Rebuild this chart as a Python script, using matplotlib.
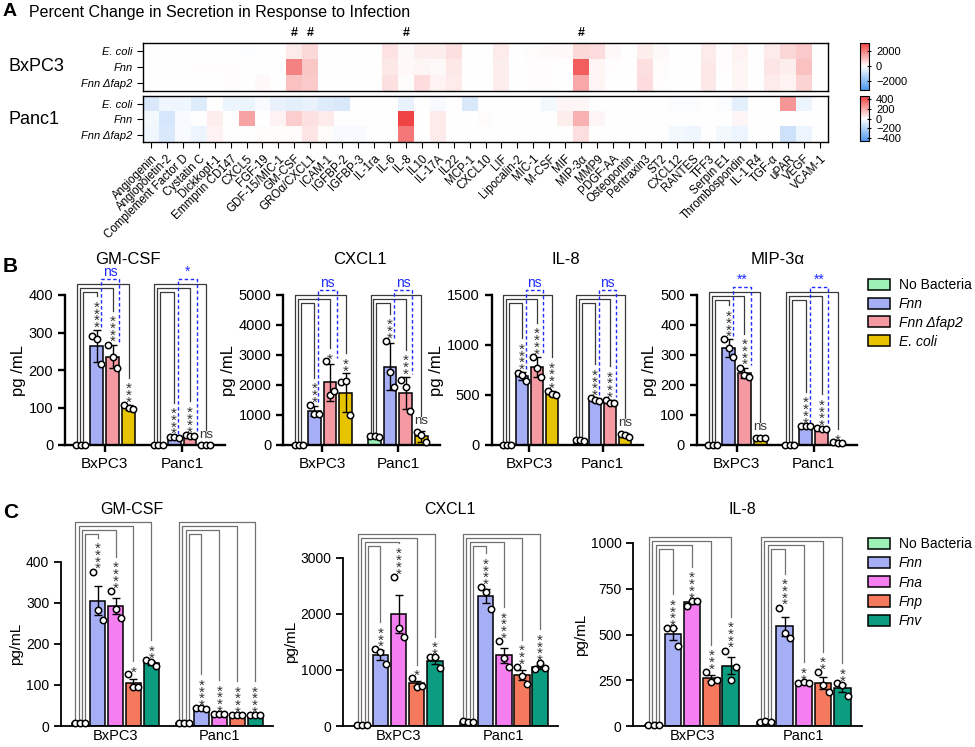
import numpy as np
import matplotlib
matplotlib.use("Agg")
import matplotlib.pyplot as plt
from matplotlib.colors import LinearSegmentedColormap
from matplotlib.patches import Patch

plt.rcParams['font.family'] = ['Liberation Sans', 'DejaVu Sans']

W, H = 975, 747

# ---------------- A: heatmap ----------------
analytes = ["Angiogenin", "Angiopoietin-2", "Complement Factor D", "Cystatin C", "Dickkopf-1",
            "Emmprin CD147", "CXCL5", "FGF-19", "GDF-15/MIC-1", "GM-CSF", "GROα/CXCL1", "ICAM-1",
            "IGFBP-2", "IGFBP-3", "IL-1ra", "IL-6", "IL-8", "IL10", "IL-17A", "IL22", "MCP-1",
            "CXCL10", "LIF", "Lipocalin-2", "MIC-1", "M-CSF", "MIF", "MIP-3α", "MMP9", "PDGF-AA",
            "Osteopontin", "Pentraxin3", "ST2", "CXCL12", "RANTES", "TFF3", "Serpin E1",
            "Thrombospondin", "IL-1 R4", "TGF-α", "uPAR", "VEGF", "VCAM-1"]
hm_rows = ["E. coli", "Fnn", "Fnn Δfap2"]
hash_marks = ["GM-CSF", "GROα/CXCL1", "IL-8", "MIP-3α"]

bx_ecoli = [0, 0, 0, 0, 0, 0, -40, 0, 0, 300, 600, 0, 0, 0, 0, 450, 80, 250, 250, 500, 0, 0, 300, 0,
            50, 80, 120, 600, 550, 100, 0, 250, 80, 0, 0, 300, 30, 200, 0, 300, 650, 850, 0]
bx_fnn = [20, 0, 0, 30, 30, 30, 0, 0, 0, 2000, 900, 0, 0, 0, 0, 350, 100, 150, 80, 350, 0, 0, 250, 0,
          30, 30, 20, 2600, 150, 30, 0, 500, 50, 0, 0, 350, 30, 150, 0, 400, 250, 1000, 0]
bx_fap2 = [0, 0, 0, 20, 0, 30, 0, 100, 0, 1000, 850, 0, 0, 0, 0, 500, 60, 550, 200, 300, 0, 0, 250, 0,
           30, 30, 0, 1400, 150, 0, 0, 550, 40, 0, 0, 350, 20, 150, 0, 300, 200, 700, 0]
pa_ecoli = [-100, -40, -40, -90, 0, -50, -50, -20, -60, -70, -60, -90, -100, 0, 0, 0, -60, 0, -20, 0,
            -100, 0, 0, 0, 0, -30, 20, 20, 0, 0, 0, 0, 0, -10, -10, 0, -10, -70, 0, 0, 250, -50, 0]
pa_fnn = [-30, -110, -20, 0, 40, 0, 220, 0, 30, 120, 70, 50, 0, 0, 0, 0, 450, 0, 50, 0, 0, 10, 0, 0,
          0, 0, 40, 190, 20, 0, 0, 0, 0, 0, 0, 0, 0, 20, 0, 0, 0, 0, 0]
pa_fap2 = [-40, -100, -20, -50, 30, 0, 0, 10, 10, 10, 60, 10, -20, -20, 0, 0, 330, 0, 50, 0, 0, 0, 0, 0,
           0, 0, 0, 80, 0, 0, 0, 0, 0, -30, -40, 0, -30, -50, 0, 0, -130, -50, 0]

# ---------------- B ----------------
cells = ["BxPC3", "Panc1"]
b_conditions = ["No Bacteria", "Fnn", "Fnn Δfap2", "E. coli"]
b_titles = ["GM-CSF", "CXCL1", "IL-8", "MIP-3α"]
b_ymax = [400, 5000, 1500, 500]
b_ystep = [100, 1000, 500, 100]

b_gmcsf_bx = [[1, 1, 1], [292, 284, 215], [268, 234, 206], [108, 100, 95]]
b_gmcsf_pa = [[1, 1, 1], [22, 22, 20], [26, 25, 24], [1, 1, 1]]
b_gmcsf_stars = [["****", "****", "***"], ["****", "****", "ns"]]
b_gmcsf_blue = ["ns", "*"]

b_cxcl1_bx = [[10, 10, 10], [1340, 1044, 1044], [2800, 1680, 1790], [2090, 2140, 990]]
b_cxcl1_pa = [[290, 290, 280], [3480, 2440, 1920], [2165, 1920, 1130], [450, 330, 100]]
b_cxcl1_stars = [["***", "*", "**"], ["***", "***", "ns"]]
b_cxcl1_blue = ["ns", "ns"]

b_il8_bx = [[2, 2, 2], [720, 700, 640], [883, 767, 683], [540, 510, 500]]
b_il8_pa = [[50, 55, 45], [467, 450, 440], [450, 425, 420], [115, 100, 80]]
b_il8_stars = [["****", "****", "****"], ["****", "****", "ns"]]
b_il8_blue = ["ns", "ns"]

b_mip_bx = [[1, 1, 1], [352, 322, 294], [258, 232, 228], [25, 24, 22]]
b_mip_pa = [[1, 1, 1], [64, 63, 64], [56, 54, 53], [9, 8, 8]]
b_mip_stars = [["****", "****", "ns"], ["****", "****", "*"]]
b_mip_blue = ["**", "**"]

# ---------------- C ----------------
c_conditions = ["No Bacteria", "Fnn", "Fna", "Fnp", "Fnv"]
c_titles = ["GM-CSF", "CXCL1", "IL-8"]
c_ymax = [400, 3000, 1000]
c_ystep = [100, 1000, 250]

c_gmcsf_bx = [[8, 8, 8], [376, 282, 258], [329, 285, 262], [126, 94, 94], [160, 157, 145]]
c_gmcsf_pa = [[8, 8, 8], [43, 43, 42], [29, 28, 28], [27, 27, 26], [27, 26, 26]]
c_gmcsf_stars = [["****", "****", "*", "**"], ["****", "****", "****", "****"]]

c_cxcl1_bx = [[10, 10, 10], [1367, 1325, 1105], [2662, 1741, 1592], [862, 701, 713], [1236, 1236, 1028]]
c_cxcl1_pa = [[90, 80, 70], [2472, 2395, 2080], [1515, 1206, 1058], [1058, 897, 749], [1010, 1117, 1030]]
c_cxcl1_stars = [["***", "****", "*", "**"], ["****", "****", "***", "****"]]

c_il8_bx = [[5, 5, 5], [534, 534, 437], [656, 685, 685], [297, 242, 251], [412, 251, 324]]
c_il8_pa = [[22, 25, 20], [647, 506, 479], [233, 239, 233], [297, 224, 188], [233, 224, 164]]
c_il8_stars = [["****", "****", "***", "****"], ["****", "**", "**", "**"]]

b_colors = ["#9cf2b6", "#a6aff5", "#f59aa3", "#e8c300"]
c_colors = ["#9cf2b6", "#a6aff5", "#f57ef0", "#f5795c", "#0c9c80"]
BLUE = "#1f2bff"
STAR_FS = 11
STAR_STEP = 7.0   # px between stacked stars


def fx(px):
    return px / W


def fy(py):
    return 1 - py / H


def add_ax(x0, x1, y0, y1):
    return fig.add_axes([fx(x0), fy(y1), (x1 - x0) / W, (y1 - y0) / H])


def draw_label(ax, x, y, lab, upp, color="#333333"):
    # y = where the lowest glyph should start (data units)
    if lab == "ns":
        ax.text(x, y, "ns", ha="center", va="bottom", fontsize=9.5, color=color)
    else:
        n = len(lab)
        em = STAR_FS * 100 / 72
        ytop = y + ((n - 1) * STAR_STEP + 0.30 * em) * upp
        ax.text(x, ytop, "\n".join("*" * n), ha="center", va="top", fontsize=STAR_FS,
                color=color, linespacing=0.34)


def bar_panel(ax, groups, star_sets, colors, gap, xlim, ymax, ystep, h_px, sem,
              br_top_px, width, blue=None, line_col="#444444", spine_w=1.5, fs=11, xtick_len=5):
    upp = ymax / h_px
    nb = len(colors)
    K = nb - 1
    centers = []
    for g, (pts_list, stars) in enumerate(zip(groups, star_sets)):
        xs = g * gap + np.arange(nb)
        centers.append(xs.mean())
        tops = []
        for k, pts in enumerate(pts_list):
            pts = np.array(pts, float)
            m = pts.mean()
            e = pts.std(ddof=1)
            if sem:
                e = e / np.sqrt(len(pts))
            ax.bar(xs[k], m, width=width, color=colors[k], edgecolor="black", linewidth=1.1, zorder=2)
            if e > 0.5:
                ax.errorbar(xs[k], m, yerr=e, fmt="none", ecolor="black", elinewidth=1,
                            capsize=3, capthick=1, zorder=3)
            ax.plot(xs[k] + np.array([-0.28, 0.0, 0.28]), pts, "o", ms=4.6, mfc="white",
                    mec="black", mew=1.1, zorder=4, clip_on=False)
            tops.append(max(pts.max(), m + e))
        top_level = ymax + br_top_px * upp
        for k in range(1, nb):
            lev = top_level - (K - k) * 4 * upp
            xl = xs[0] - 0.25 + 0.185 * (K - k)
            lab = stars[k - 1]
            lab_h = 9 if lab == "ns" else STAR_STEP * len(lab)
            yrb = min(tops[k] + (3 + lab_h + 3) * upp, lev)
            ax.plot([xl, xl, xs[k], xs[k]], [tops[0] + 3 * upp, lev, lev, yrb],
                    color=line_col, lw=0.9, clip_on=False, zorder=1)
            draw_label(ax, xs[k], tops[k] + 4 * upp, lab, upp)
        if blue is not None:
            blev = top_level + 5 * upp
            bl, br = xs[1] + 0.25, xs[2] + 0.42
            ax.plot([bl, bl, br, br], [tops[1] + 3 * upp, blev, blev, tops[2] + 3 * upp],
                    color=BLUE, lw=1, ls=(0, (2.5, 1.8)), clip_on=False, zorder=1)
            ax.text((bl + br) / 2, blev, blue[g], ha="center", va="bottom",
                    color=BLUE, fontsize=10)
    ax.set_xlim(*xlim)
    ax.set_ylim(0, ymax)
    ax.set_yticks(np.arange(0, ymax + 1, ystep))
    ax.set_xticks(centers)
    ax.set_xticklabels(cells, fontsize=fs)
    ax.tick_params(axis="y", labelsize=fs - 0.5, width=spine_w, length=5)
    ax.tick_params(axis="x", width=spine_w, length=xtick_len, pad=2 if xtick_len == 0 else 3.5)
    for s in ["top", "right"]:
        ax.spines[s].set_visible(False)
    for s in ["left", "bottom"]:
        ax.spines[s].set_linewidth(spine_w)


fig = plt.figure(figsize=(W / 100, H / 100), dpi=100)

# ---- panel A ----
cmap = LinearSegmentedColormap.from_list("bwr2", ["#4f98ee", "#ffffff", "#f03c3c"])
fig.text(fx(3), fy(12), "A", fontsize=14, weight="bold", va="center")
fig.text(fx(29), fy(12), "Percent Change in Secretion in Response to Infection",
         fontsize=11.5, va="center")

hm_specs = [("BxPC3", [bx_ecoli, bx_fnn, bx_fap2], 42.7, 90.7, 3150, [-2000, 0, 2000]),
            ("Panc1", [pa_ecoli, pa_fnn, pa_fap2], 96, 142.3, 470, [-400, -200, 0, 200, 400])]
for i, (name, rows, y0, y1, vlim, cticks) in enumerate(hm_specs):
    ax = add_ax(143, 828, y0, y1)
    im = ax.imshow(np.array(rows, float), cmap=cmap, vmin=-vlim, vmax=vlim,
                   aspect="auto", interpolation="nearest")
    ax.set_yticks(range(len(hm_rows)))
    ax.set_yticklabels(hm_rows, fontsize=8, style="italic")
    ax.tick_params(axis="y", length=4, width=0.8)
    for s in ax.spines.values():
        s.set_linewidth(1)
    if i == 1:
        ax.set_xticks(range(len(analytes)))
        ax.set_xticklabels(analytes, rotation=45, ha="right", rotation_mode="anchor", fontsize=8.3)
        ax.tick_params(axis="x", length=4, width=0.8)
    else:
        ax.set_xticks([])
        for h in hash_marks:
            ax.text(analytes.index(h), -0.75, "#", ha="center", va="bottom", fontsize=9, weight="bold")
    fig.text(fx(8), fy((y0 + y1) / 2), name, fontsize=13, va="center")
    cax = add_ax(860, 869, y0, y1 - 1)
    cb = fig.colorbar(im, cax=cax, ticks=cticks)
    cb.ax.tick_params(labelsize=8, length=3, width=0.8, direction="inout")
    cb.outline.set_linewidth(0.8)

# ---- panel B ----
fig.text(fx(3), fy(267), "B", fontsize=15, weight="bold", va="center")
b_groups = [(b_gmcsf_bx, b_gmcsf_pa), (b_cxcl1_bx, b_cxcl1_pa), (b_il8_bx, b_il8_pa), (b_mip_bx, b_mip_pa)]
b_stars = [b_gmcsf_stars, b_cxcl1_stars, b_il8_stars, b_mip_stars]
b_blue = [b_gmcsf_blue, b_cxcl1_blue, b_il8_blue, b_mip_blue]
b_pos = [(65, 225), (283.3, 440), (491.7, 643.3), (696.7, 856.7)]
b_brtop = [11, 0, 0, 3]
b_title_x = [128, 360, 566, 778]
gap_b = 4.85
for i in range(4):
    ax = add_ax(b_pos[i][0], b_pos[i][1], 295, 445)
    bar_panel(ax, b_groups[i], b_stars[i], b_colors, gap_b, (-1.0, gap_b + 4.2),
              b_ymax[i], b_ystep[i], 150, False, b_brtop[i], 0.81, blue=b_blue[i],
              line_col="#3a3a3a", spine_w=1.7, fs=11)
    ax.set_ylabel("pg /mL", fontsize=12, labelpad=2)
    fig.text(fx(b_title_x[i]), fy(259), b_titles[i], fontsize=12, ha="center", va="center")

b_handles = [Patch(facecolor=c, edgecolor="black", linewidth=1.1) for c in b_colors]
leg = fig.legend(b_handles, b_conditions, loc="upper left", bbox_to_anchor=(fx(868), fy(278)),
                 frameon=False, fontsize=10, handlelength=1.6, handleheight=0.85,
                 labelspacing=0.35, handletextpad=0.6, borderaxespad=0, borderpad=0)
for t in leg.get_texts()[1:]:
    t.set_style("italic")

# ---- panel C ----
fig.text(fx(3), fy(513), "C", fontsize=15, weight="bold", va="center")
c_groups = [(c_gmcsf_bx, c_gmcsf_pa), (c_cxcl1_bx, c_cxcl1_pa), (c_il8_bx, c_il8_pa)]
c_stars = [c_gmcsf_stars, c_cxcl1_stars, c_il8_stars]
c_pos = [(61, 273, 561.7), (343.3, 558.3, 557.7), (633.3, 861.7, 543)]
c_brtop = [40, 23.7, 5.7]
c_title_x = [132, 450, 742]
gap_c = 5.8
for i in range(3):
    x0, x1, ytop = c_pos[i]
    ax = add_ax(x0, x1, ytop, 726)
    bar_panel(ax, c_groups[i], c_stars[i], c_colors, gap_c, (-1.05, gap_c + 5.0),
              c_ymax[i], c_ystep[i], 726 - ytop, True, c_brtop[i], 0.85,
              line_col="#707070", spine_w=1.3, fs=10.5, xtick_len=0)
    ax.set_ylabel("pg/mL", fontsize=11, labelpad=2)
    fig.text(fx(c_title_x[i]), fy(509), c_titles[i], fontsize=11.5, ha="center", va="center")

c_handles = [Patch(facecolor=c, edgecolor="black", linewidth=1.1) for c in c_colors]
leg2 = fig.legend(c_handles, c_conditions, loc="upper left", bbox_to_anchor=(fx(868), fy(537)),
                  frameon=False, fontsize=10, handlelength=1.6, handleheight=0.85,
                  labelspacing=0.38, handletextpad=0.6, borderaxespad=0, borderpad=0)
for t in leg2.get_texts()[1:]:
    t.set_style("italic")

fig.savefig("out.png", dpi=100)
